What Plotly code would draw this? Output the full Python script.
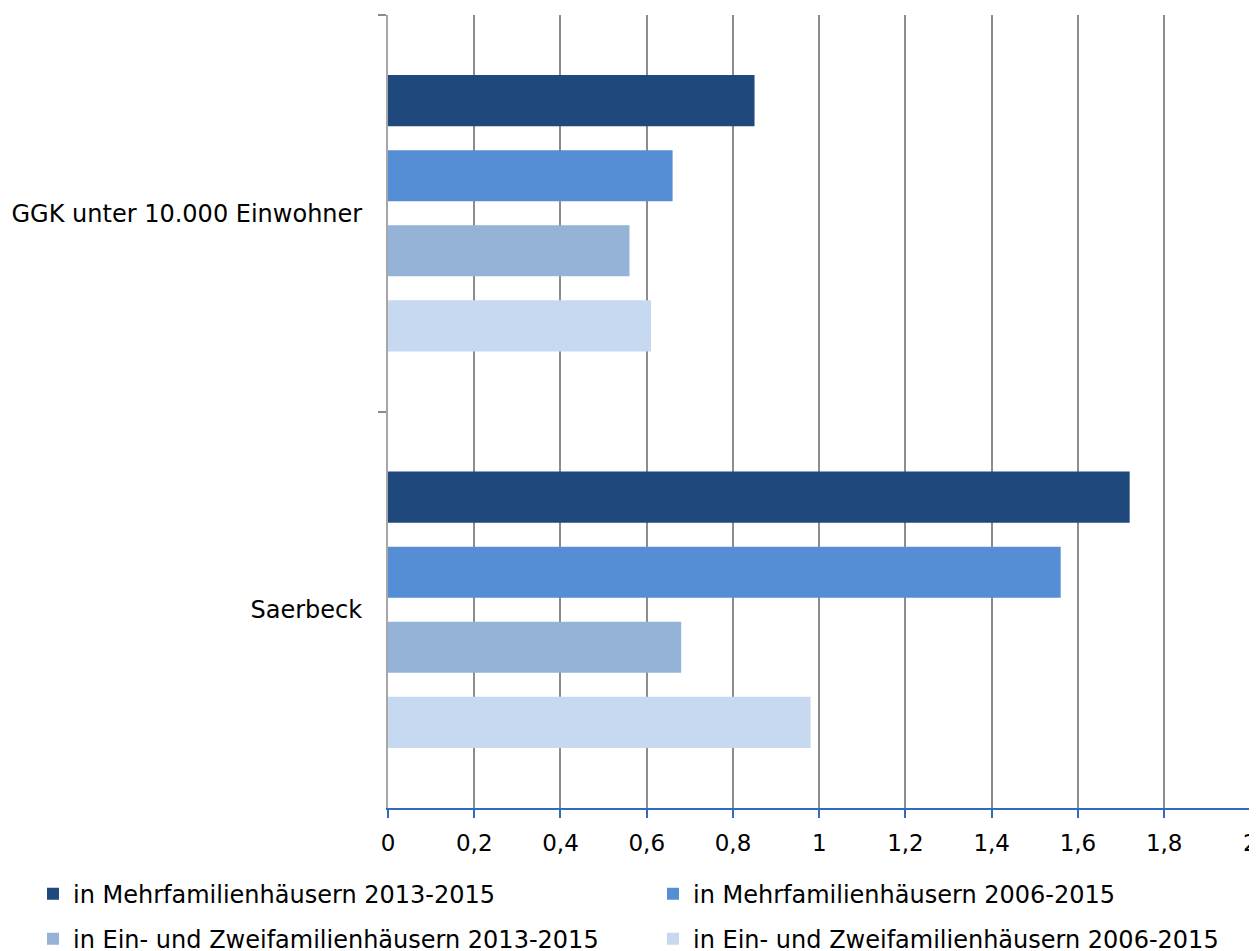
import plotly.graph_objects as go

categories = ["GGK unter 10.000 Einwohner", "Saerbeck"]
series_names = [
    "in Mehrfamilienhäusern 2013-2015",
    "in Mehrfamilienhäusern 2006-2015",
    "in Ein- und Zweifamilienhäusern 2013-2015",
    "in Ein- und Zweifamilienhäusern 2006-2015",
]
mfh_2013 = [0.85, 1.72]
mfh_2006 = [0.66, 1.56]
ezfh_2013 = [0.56, 0.68]
ezfh_2006 = [0.61, 0.98]
x_ticks = [0, 0.2, 0.4, 0.6, 0.8, 1.0, 1.2, 1.4, 1.6, 1.8, 2.0]
x_tick_labels = ["0", "0,2", "0,4", "0,6", "0,8", "1", "1,2", "1,4", "1,6", "1,8", "2"]

colors = ["#1F497D", "#558ED5", "#95B3D7", "#C6D9F1"]
values = [mfh_2013, mfh_2006, ezfh_2013, ezfh_2006]
legend_ids = ["legend", "legend", "legend2", "legend2"]

FONT = "DejaVu Sans"

fig = go.Figure()
for name, vals, col, lg in zip(series_names, values, colors, legend_ids):
    fig.add_trace(go.Bar(
        y=categories, x=vals, name=name, orientation="h",
        marker=dict(color=col, line=dict(width=0)),
        legend=lg,
    ))

# last vertical gridline (at the right end of the axis range)
fig.add_shape(type="line", xref="x", yref="paper",
              x0=x_ticks[-1], x1=x_ticks[-1], y0=0, y1=1,
              line=dict(color="#8C8C8C", width=2), layer="below")

legend_common = dict(
    orientation="h", x=-0.4104, xanchor="left", yanchor="middle",
    entrywidth=575, entrywidthmode="pixels",
    font=dict(family=FONT, size=24, color="#000000"),
    itemwidth=30, tracegroupgap=0, traceorder="normal",
    bgcolor="rgba(0,0,0,0)",
)

fig.update_layout(
    width=1249, height=943,
    margin=dict(l=380, r=4, t=7, b=143, autoexpand=False),
    paper_bgcolor="white", plot_bgcolor="white",
    barmode="group", bargap=0.2424, bargroupgap=0.32,
    font=dict(family=FONT, size=23, color="#000000"),
    showlegend=True,
    legend=dict(legend_common, y=-0.1085),
    legend2=dict(legend_common, y=-0.1655),
    xaxis=dict(
        range=[0, 2.006], tickvals=x_ticks, ticktext=x_tick_labels,
        showgrid=True, gridcolor="#8C8C8C", gridwidth=2,
        showline=True, linecolor="#2F6BBF", linewidth=2,
        ticks="outside", ticklen=8, tickcolor="#2F6BBF", tickwidth=2,
        zeroline=False, ticklabelstandoff=5, ticklabeloverflow="allow",
        tickfont=dict(family=FONT, size=23, color="#000000"),
    ),
    yaxis=dict(
        autorange="reversed", type="category",
        showline=True, linecolor="#A6A6A6", linewidth=2,
        ticks="outside", ticklen=8, tickcolor="#8C8C8C", tickwidth=2,
        tickson="boundaries", showgrid=False, zeroline=False,
        ticklabelstandoff=19,
        tickfont=dict(family=FONT, size=24, color="#000000"),
    ),
)

fig.write_html("out.html")
